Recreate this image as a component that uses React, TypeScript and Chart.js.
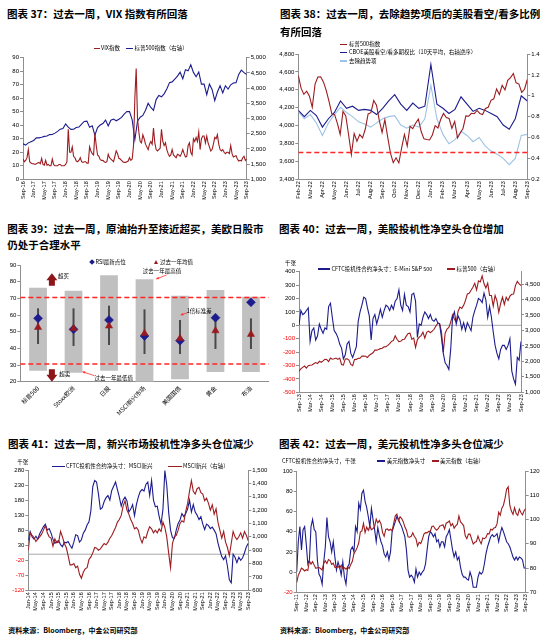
import React, { useEffect, useRef } from "react";
import { Chart, registerables } from "chart.js";

Chart.register(...registerables);

const FONT = "'Liberation Sans', Arial, sans-serif";
const CJK = "'Noto Sans CJK SC', 'Liberation Sans', sans-serif";
const RED = "#9c1c20";
const NAVY = "#1c1c8e";
const LBLUE = "#9cc3e5";
const DASH = "#ff2626";
const AXIS = "#8f8f8f";
const ZERO = "#a8a8a8";
const NEG = "#ff0000";
const GRAYBAR = "#c0c0c0";

// ---------------- Panel 37 ----------------
const p37Ticks = ["Sep-16","Jan-17","May-17","Sep-17","Jan-18","May-18","Sep-18","Jan-19","May-19","Sep-19","Jan-20","May-20","Sep-20","Jan-21","May-21","Sep-21","Jan-22","May-22","Sep-22","Jan-23","May-23","Sep-23"];
// VIX, twice a month, Sep-16 .. Sep-23
const p37Vix = [
  15,13, 14,16, 22,13, 12,11.5, 11.5,11, 11.5,12, 12.5,11.5, 15.5,11, 10.5,14, 10.5,11,
  10,10, 15,11, 10,10, 10,11, 11,10, 10,10, 11,13, 37,20, 20,24, 17,16,
  13.5,13, 14,16, 13,12.5, 13,13, 12,12, 24,21, 19,18, 34,25, 18,17, 14.5,14,
  14,13, 12.5,13, 18.5,16, 15,14, 13,17, 21,19, 15.5,15, 14,13, 12.5,12.5, 13,13.5,
  16,14, 15,25, 60,82, 45,35, 28,27, 33,30, 26,24, 22,26, 28,26, 38,27,
  22,21, 22,23, 37,28, 25,27, 22,19, 17,18, 22,18, 17,16, 18.5,18, 17,19,
  22,19, 16.5,17, 25,27, 20,18, 30,28, 31,28, 35,22, 30,32, 32,27, 32,27,
  24,21, 22,26, 31,30, 33,26, 22,21, 22,20, 19,20, 20,19, 25,19, 16.5,17,
  17.5,15, 13.5,14, 13.5,16, 17,14, 15
];
// S&P 500, monthly, Sep-13 .. Sep-23
const spxMonthly = [
  1682,1757,1806,1848,
  1783,1859,1872,1884,1924,1960,1931,2003,1972,2018,2068,2059,
  1995,2105,2068,2086,2107,2063,2104,1900,1880,2079,2080,2044,
  1900,1860,2060,2065,2097,2099,2174,2171,2168,2126,2199,2239,
  2279,2364,2363,2384,2412,2423,2470,2472,2519,2575,2648,2674,
  2824,2714,2641,2648,2705,2718,2816,2902,2914,2712,2760,2450,
  2704,2784,2834,2946,2752,2942,2980,2926,2977,3038,3141,3231,
  3226,2954,2300,2912,3044,3100,3271,3500,3363,3270,3622,3756,
  3714,3811,3973,4181,4204,4298,4395,4523,4308,4605,4567,4766,
  4516,4374,4530,4132,4132,3785,4130,3955,3586,3872,4080,3840,
  4077,3970,4109,4169,4180,4450,4589,4508,4450
];
const p37Spx = spxMonthly.slice(36);

// ---------------- Panel 38 ----------------
const p38Ticks = ["Feb-22","Mar-22","Apr-22","May-22","Jun-22","Jul-22","Aug-22","Sep-22","Oct-22","Nov-22","Dec-22","Jan-23","Feb-23","Mar-23","Apr-23","May-23","Jun-23","Jul-23","Aug-23","Sep-23"];
const p38Spx = [4560,4418,4349,4385,4329,4204,4463,4543,4546,4488,4393,4272,4132,4123,4024,3901,4158,4109,3901,3675,3912,3825,3899,3863,3962,4130,4145,4280,4228,4058,3924,4067,3873,3693,3586,3640,3583,3752,3901,3771,3993,3965,4026,4072,3934,3852,3845,3840,
  3895,3999,3973,4071,4136,4090,4079,3970,4046,3862,3917,3971,4109,4105,4138,4133,4169,4136,4124,4192,4205,4282,4299,4410,4348,4450,4399,4505,4536,4582,4478,4464,4370,4406,4515];
const p38Pcr = [0.86,0.80,0.86,0.81,0.70,0.78,0.84,0.95,0.88,0.90,0.86,0.87,0.86,0.82,0.88,0.95,1.01,0.92,0.86,0.93,0.88,0.90,1.30,0.92,0.88,0.83,0.87,0.99,0.92,0.85,0.88,0.86,0.83,0.80,0.72,0.68,0.78,1.0,0.95];
const p38Detrend = [0.85,0.78,0.82,0.74,0.62,0.74,0.82,0.89,0.84,0.80,0.75,0.73,0.70,0.74,0.78,0.80,0.81,0.72,0.69,0.72,0.70,0.78,1.10,0.78,0.63,0.54,0.58,0.66,0.62,0.56,0.60,0.52,0.47,0.44,0.40,0.34,0.40,0.62,0.63];
const p38Threshold = [3700, 3700];

// ---------------- Panel 39 ----------------
const p39Cats = ["标普500","Stoxx欧洲","日股","MSCI新兴市场","美国国债","黄金","布油"];
const p39Low = [26.6,25.4,26.6,20,21.4,25.8,25.8];
const p39High = [76.4,74.6,83.8,81.4,71.6,75,71];
const p39Rsi = [58,51.4,57,47.4,44.6,58.4,67.6];
const p39Avg = [52.6,52,53.4,49,46,50.6,48.4];
const p39StdLow = [42.6,41.4,42,36.6,36.6,39.6,39.6];
const p39StdHigh = [64,64,65.6,63.4,57,60.5,58];
const p39Bands = [70.5, 30.6];

// ---------------- Panel 40 ----------------
const p40Ticks = ["Sep-13","Mar-14","Sep-14","Mar-15","Sep-15","Mar-16","Sep-16","Mar-17","Sep-17","Mar-18","Sep-18","Mar-19","Sep-19","Mar-20","Sep-20","Mar-21","Sep-21","Mar-22","Sep-22","Mar-23","Sep-23"];
const p40Cftc = [0,110,80,90,110,130,-120,-40,-20,-110,
  -80,10,-30,-60,-20,-30,140,165,60,-40,
  -60,-90,-140,-170,-250,-220,-140,-120,-210,-240,
  -200,-160,30,100,150,210,200,130,70,-110,
  50,80,10,60,120,60,110,150,140,110,
  150,120,180,200,265,150,110,230,150,140,
  100,230,240,180,-90,10,0,60,100,80,
  50,80,40,30,50,20,10,-90,-210,-280,
  -300,-330,-180,60,100,10,70,40,-30,20,
  -40,20,-10,-40,60,110,150,200,190,170,
  240,190,60,140,60,-50,-150,-210,-250,-180,
  -150,-150,-180,-150,-100,-340,-400,-440,-240,-260,
  -120];
const p40Spx = spxMonthly;

// ---------------- Panel 41 ----------------
const p41Ticks = ["Jan-14","May-14","Sep-14","Jan-15","May-15","Sep-15","Jan-16","May-16","Sep-16","Jan-17","May-17","Sep-17","Jan-18","May-18","Sep-18","Jan-19","May-19","Sep-19","Jan-20","May-20","Sep-20","Jan-21","May-21","Sep-21","Jan-22","May-22","Sep-22","Jan-23","May-23","Sep-23"];
const p41Cftc = [47,75,58,50,60,50,68,80,92,100,
  80,85,70,50,36,42,45,32,25,40,
  38,42,30,20,40,65,62,40,48,70,
  80,97,108,145,225,245,240,200,150,155,
  175,188,195,180,212,226,240,215,190,160,
  180,190,178,140,150,165,128,165,190,208,
  215,210,232,240,195,245,180,158,160,125,
  100,150,278,230,140,80,55,52,80,102,
  114,135,125,135,150,180,140,165,140,130,
  115,125,100,82,100,95,85,90,80,68,
  38,14,-8,-18,-5,-40,-85,-95,0,-10,
  -28,-10,-20,-12,5,25,36];
const p41Msci = [900,1030,1010,995,965,985,1000,1020,1050,1085,
  1030,1000,990,930,985,955,960,1040,1000,950,
  920,860,790,790,800,770,780,720,690,735,
  760,770,830,850,880,920,915,900,910,930,
  950,940,960,990,1010,1040,1070,1110,1130,1160,
  1230,1270,1200,1170,1130,1100,1060,1070,1050,990,
  955,1000,990,1040,1075,1060,1030,1050,1030,1060,
  1040,1110,1070,1000,880,770,950,1000,1010,1050,
  1100,1120,1110,1190,1250,1340,1420,1340,1320,1360,
  1370,1330,1320,1270,1290,1250,1200,1240,1170,1210,
  1110,1050,990,1040,960,920,860,950,1040,1000,
  980,1000,1030,990,1040,1010,970];

// ---------------- Panel 42 ----------------
const p42Ticks = ["Sep-11","Mar-12","Sep-12","Mar-13","Sep-13","Mar-14","Sep-14","Mar-15","Sep-15","Mar-16","Sep-16","Mar-17","Sep-17","Mar-18","Sep-18","Mar-19","Sep-19","Mar-20","Sep-20","Mar-21","Sep-21","Mar-22","Sep-22","Mar-23","Sep-23"];
const p42Cftc = [0,30,45,22,42,45,28,8,12,45,
  52,42,40,12,-2,-5,-12,10,25,54,
  35,30,20,30,15,2,10,5,-3,10,
  -5,-12,5,8,22,25,20,45,40,68,
  62,78,81,70,64,55,45,63,52,42,
  30,44,36,30,26,18,15,20,12,20,
  40,45,50,55,52,48,45,40,35,22,
  2,-5,-3,-5,-10,3,-5,0,-3,0,
  2,8,22,35,40,38,35,38,30,32,
  25,30,30,25,35,38,42,32,22,15,
  20,12,15,5,-2,-5,-5,-7,-8,0,
  -5,-15,-15,-15,-5,0,-2,0,8,18,
  25,30,35,37,35,36,38,30,38,44,
  40,35,30,28,25,20,15,12,15,12,
  15,14,12,4,4];
const p42Dxy = [74,77,78.5,80,
  79.5,78.8,79.3,79.0,83.0,81.6,82.6,81.2,79.9,80.1,80.2,79.8,
  79.2,82.0,83.0,81.9,83.5,83.1,81.5,82.0,80.3,80.2,80.7,80.0,
  81.2,79.7,80.1,79.5,80.4,79.8,81.5,82.8,86.0,87.0,88.4,90.3,
  94.8,95.3,98.4,94.6,96.9,95.5,97.3,95.8,96.3,97.0,100.2,98.6,
  99.6,98.2,94.6,93.1,95.9,96.1,95.5,96.0,95.4,98.4,101.5,102.2,
  99.5,101.1,100.4,99.1,97.0,95.6,92.9,92.7,93.1,94.5,93.0,92.1,
  89.1,90.6,90.1,91.8,94.0,94.6,94.5,95.1,95.1,97.1,97.3,96.2,
  95.6,96.2,97.3,97.5,97.8,96.1,98.5,98.9,99.4,97.4,98.3,96.4,
  97.4,98.1,101.5,99.0,98.3,97.4,93.3,92.1,94.0,94.0,91.9,89.9,
  90.6,90.9,93.2,91.3,90.0,92.4,92.1,92.6,94.2,94.1,96.0,95.7,
  96.5,96.7,98.3,103.0,101.8,104.7,105.9,108.7,112.5,113.5,105.9,103.5,
  102.1,104.9,102.5,101.7,104.3,102.9,101.9,103.6,104.5];

// ---------------- helpers ----------------
const fmtK = (v: number) => Math.round(v).toLocaleString("en-US");
const fmt1 = (v: number) => String(Math.round(v * 10) / 10);
const steps = (a: number, b: number, s: number) => {
  const r: number[] = [];
  for (let v = a; v <= b + 1e-9; v += s) r.push(Math.round(v * 1000) / 1000);
  return r;
};
const series = (vals: number[], span: number) =>
  vals.map((v, i) => ({ x: (i * span) / (vals.length - 1), y: v }));

const ln = (vals: number[], span: number, color: string, axis: string, extra: any = {}) => ({
  type: "line",
  data: series(vals, span),
  borderColor: color,
  backgroundColor: color,
  borderWidth: 1.1,
  pointRadius: 0,
  tension: 0,
  yAxisID: axis,
  ...extra,
});

function yAx(position: string, spec: any, width: number) {
  return {
    type: "linear",
    position,
    min: spec.min,
    max: spec.max,
    afterFit: (s: any) => { s.width = width; },
    afterBuildTicks: (s: any) => { s.ticks = spec.ticks.map((v: number) => ({ value: v })); },
    border: { display: true, color: AXIS, width: 1 },
    grid: {
      drawOnChartArea: false,
      color: AXIS,
      tickLength: 3,
      tickColor: AXIS,
      tickWidth: 1,
    },
    ticks: {
      autoSkip: false,
      padding: 1,
      font: { size: 6, family: FONT },
      color: (c: any) => (c.tick && c.tick.value < 0 ? NEG : "#000"),
      callback: (v: any) => spec.fmt(Number(v)),
    },
  };
}

const zeroLinePlugin = {
  id: "zeroLine",
  beforeDatasetsDraw(chart: any, _a: any, opts: any) {
    if (!opts || opts.value === undefined) return;
    const { ctx, chartArea: a, scales } = chart;
    const py = scales.y.getPixelForValue(opts.value);
    ctx.save();
    ctx.strokeStyle = ZERO;
    ctx.lineWidth = 1;
    ctx.beginPath();
    ctx.moveTo(a.left, py);
    ctx.lineTo(a.right, py);
    ctx.stroke();
    ctx.restore();
  },
};

type Geo = { L: number; T: number; W: number; H: number; plot: { l: number; r: number; t: number; b: number } };

const GEO: Record<string, Geo> = {
  p37: { L: 0, T: 50, W: 275, H: 152, plot: { l: 23, r: 246.7, t: 57.7, b: 179.3 } },
  p38: { L: 275, T: 46, W: 275, H: 156, plot: { l: 298.3, r: 527.3, t: 54, b: 179.3 } },
  p39: { L: 0, T: 257, W: 275, H: 162, plot: { l: 20.3, r: 268.7, t: 265, b: 381.7 } },
  p40: { L: 275, T: 264, W: 275, H: 152, plot: { l: 299, r: 521, t: 271.7, b: 392.3 } },
  p41: { L: 0, T: 462, W: 275, H: 154, plot: { l: 28.3, r: 248.3, t: 470, b: 590.3 } },
  p42: { L: 275, T: 463, W: 275, H: 156, plot: { l: 296.7, r: 525.7, t: 471, b: 592.3 } },
};

function lineConfig(g: Geo, x: any, yl: any, yr: any, datasets: any[], zero?: number) {
  const leftW = g.plot.l - g.L;
  const rightW = g.L + g.W - g.plot.r;
  const padTop = g.plot.t - g.T;
  const xH = g.T + g.H - g.plot.b;
  const scales: any = {
    x: {
      type: "linear",
      min: 0,
      max: x.span,
      afterFit: (s: any) => { s.height = xH; },
      afterBuildTicks: (s: any) => { s.ticks = x.labels.map((_: any, i: number) => ({ value: i * x.step })); },
      border: { display: true, color: AXIS, width: 1 },
      grid: { display: false, drawTicks: false, tickLength: 0 },
      ticks: {
        autoSkip: false,
        minRotation: 90,
        maxRotation: 90,
        padding: 2,
        font: { size: 5.5, family: FONT },
        color: "#000",
        callback: (_v: any, i: number) => x.labels[i],
      },
    },
    y: yAx("left", yl, leftW),
  };
  if (yr) scales.y1 = yAx("right", yr, rightW);
  return {
    type: "line",
    data: { datasets },
    options: {
      responsive: false,
      animation: false,
      events: [],
      layout: { padding: { top: padTop, left: 0, right: yr ? 0 : rightW, bottom: 0 } },
      plugins: {
        legend: { display: false },
        tooltip: { enabled: false },
        zeroLine: zero === undefined ? {} : { value: zero },
      },
      scales,
    },
    plugins: [zeroLinePlugin],
  };
}

// ---------- Panel 39 annotation layout ----------
const p39BlockArrows = [
  { x: 0.39, from: 77.6, to: 85 },
  { x: 0.39, from: 27.4, to: 20 },
];
const p39Notes = [
  { text: "超买", x: 0.72, y: 83.6 },
  { text: "超卖", x: 0.75, y: 24.6 },
  { text: "过去一年最高值", x: 3.49, y: 86.4 },
  { text: "1倍标准差", x: 4.545, y: 62.4 },
  { text: "过去一年最低值", x: 2.13, y: 22.4 },
];
const p39Pointers = [
  { x0: 3.62, y0: 84, x1: 3.33, y1: 81.6 },
  { x0: 4.24, y0: 61.6, x1: 4.02, y1: 60 },
  { x0: 1.59, y0: 23.6, x1: 1.25, y1: 26 },
];

const p39Plugin = {
  id: "p39extra",
  afterDatasetDraw(chart: any, args: any) {
    if (args.index !== 2) return;
    const { ctx, chartArea: a, scales } = chart;
    const x = scales.x, y = scales.y;
    ctx.save();
    ctx.strokeStyle = "#4a4a4a";
    ctx.lineWidth = 2;
    p39StdLow.forEach((lo, i) => {
      const px = x.getPixelForValue(i);
      ctx.beginPath();
      ctx.moveTo(px, y.getPixelForValue(lo));
      ctx.lineTo(px, y.getPixelForValue(p39StdHigh[i]));
      ctx.stroke();
    });
    ctx.strokeStyle = DASH;
    ctx.lineWidth = 1.6;
    ctx.setLineDash([5, 3]);
    p39Bands.forEach((v) => {
      const py = y.getPixelForValue(v);
      ctx.beginPath();
      ctx.moveTo(a.left, py);
      ctx.lineTo(a.right, py);
      ctx.stroke();
    });
    ctx.restore();
  },
  afterDatasetsDraw(chart: any) {
    const { ctx, scales } = chart;
    const x = scales.x, y = scales.y;
    ctx.save();
    ctx.fillStyle = "#8e1518";
    p39BlockArrows.forEach((ar) => {
      const px = x.getPixelForValue(ar.x);
      const pb = y.getPixelForValue(ar.from);
      const pt = y.getPixelForValue(ar.to);
      const dir = pt < pb ? -1 : 1;
      const headH = 7, headW = 5.5, shaftW = 3;
      const neck = pt - dir * headH;
      ctx.beginPath();
      ctx.moveTo(px - shaftW, pb);
      ctx.lineTo(px - shaftW, neck);
      ctx.lineTo(px - headW, neck);
      ctx.lineTo(px, pt);
      ctx.lineTo(px + headW, neck);
      ctx.lineTo(px + shaftW, neck);
      ctx.lineTo(px + shaftW, pb);
      ctx.closePath();
      ctx.fill();
    });
    ctx.strokeStyle = "#ff3030";
    ctx.fillStyle = "#ff3030";
    ctx.lineWidth = 0.8;
    p39Pointers.forEach((p) => {
      const x0 = x.getPixelForValue(p.x0), y0 = y.getPixelForValue(p.y0);
      const x1 = x.getPixelForValue(p.x1), y1 = y.getPixelForValue(p.y1);
      ctx.beginPath();
      ctx.moveTo(x0, y0);
      ctx.lineTo(x1, y1);
      ctx.stroke();
      const ang = Math.atan2(y1 - y0, x1 - x0);
      ctx.beginPath();
      ctx.moveTo(x1, y1);
      ctx.lineTo(x1 - 3 * Math.cos(ang - 0.45), y1 - 3 * Math.sin(ang - 0.45));
      ctx.lineTo(x1 - 3 * Math.cos(ang + 0.45), y1 - 3 * Math.sin(ang + 0.45));
      ctx.closePath();
      ctx.fill();
    });
    ctx.fillStyle = "#000";
    ctx.font = `5.5px ${CJK}`;
    ctx.textAlign = "center";
    ctx.textBaseline = "middle";
    p39Notes.forEach((n) => {
      ctx.fillText(n.text, x.getPixelForValue(n.x), y.getPixelForValue(n.y));
    });
    ctx.restore();
  },
};

function p39Config(g: Geo) {
  const leftW = g.plot.l - g.L;
  const rightPad = g.L + g.W - g.plot.r;
  const padTop = g.plot.t - g.T;
  const xH = g.T + g.H - g.plot.b;
  return {
    type: "bar",
    data: {
      labels: p39Cats,
      datasets: [
        { type: "line", data: p39Avg, showLine: false, pointStyle: "triangle", pointRadius: 4.2, pointBackgroundColor: "#991a1e", pointBorderColor: "#991a1e", pointBorderWidth: 0.5, order: 0 },
        { type: "line", data: p39Rsi, showLine: false, pointStyle: "rectRot", pointRadius: 4.5, pointBackgroundColor: NAVY, pointBorderColor: NAVY, pointBorderWidth: 0.5, order: 1 },
        { type: "bar", data: p39Low.map((v, i) => [v, p39High[i]]), backgroundColor: GRAYBAR, borderWidth: 0, barPercentage: 0.5, categoryPercentage: 1, order: 2 },
      ],
    },
    options: {
      responsive: false,
      animation: false,
      events: [],
      layout: { padding: { top: padTop, left: 0, right: rightPad, bottom: 0 } },
      plugins: { legend: { display: false }, tooltip: { enabled: false } },
      scales: {
        x: {
          type: "category",
          afterFit: (s: any) => { s.height = xH; },
          border: { display: true, color: AXIS, width: 1 },
          grid: { display: false, drawTicks: false, tickLength: 0 },
          ticks: { autoSkip: false, minRotation: 45, maxRotation: 45, padding: 3, font: { size: 6, family: CJK }, color: "#000" },
        },
        y: yAx("left", { min: 20, max: 90, ticks: steps(20, 90, 10), fmt: fmtK }, leftW),
      },
    },
    plugins: [p39Plugin],
  };
}

function buildConfigs() {
  return [
    lineConfig(
      GEO.p37,
      { span: 84, step: 4, labels: p37Ticks },
      { min: 0, max: 90, ticks: steps(0, 90, 10), fmt: fmtK },
      { min: 1000, max: 5000, ticks: steps(1000, 5000, 500), fmt: fmtK },
      [ln(p37Vix, 84, RED, "y"), ln(p37Spx, 84, NAVY, "y1")]
    ),
    lineConfig(
      GEO.p38,
      { span: 19, step: 1, labels: p38Ticks },
      { min: 3400, max: 4800, ticks: steps(3400, 4800, 200), fmt: fmtK },
      { min: 0.2, max: 1.4, ticks: steps(0.2, 1.4, 0.2), fmt: fmt1 },
      [
        ln(p38Threshold, 19, DASH, "y", { borderDash: [5, 3], borderWidth: 1.5 }),
        ln(p38Spx, 19, RED, "y"),
        ln(p38Pcr, 19, NAVY, "y1"),
        ln(p38Detrend, 19, LBLUE, "y1"),
      ]
    ),
    p39Config(GEO.p39),
    lineConfig(
      GEO.p40,
      { span: 120, step: 6, labels: p40Ticks },
      { min: -500, max: 400, ticks: steps(-500, 400, 100), fmt: fmtK },
      { min: 1000, max: 4900, ticks: steps(1000, 4500, 500), fmt: fmtK },
      [ln(p40Cftc, 120, NAVY, "y"), ln(p40Spx, 120, RED, "y1")],
      0
    ),
    lineConfig(
      GEO.p41,
      { span: 116, step: 4, labels: p41Ticks },
      { min: -120, max: 280, ticks: steps(-120, 280, 50), fmt: fmtK },
      { min: 600, max: 1500, ticks: steps(600, 1500, 100), fmt: fmtK },
      [ln(p41Msci, 116, RED, "y1"), ln(p41Cftc, 116, NAVY, "y")],
      0
    ),
    lineConfig(
      GEO.p42,
      { span: 144, step: 6, labels: p42Ticks },
      { min: -20, max: 100, ticks: steps(-20, 100, 20), fmt: fmtK },
      { min: 70, max: 120, ticks: steps(70, 120, 10), fmt: fmtK },
      [ln(p42Dxy, 144, RED, "y1"), ln(p42Cftc, 144, NAVY, "y")]
    ),
  ];
}

const GEO_LIST = [GEO.p37, GEO.p38, GEO.p39, GEO.p40, GEO.p41, GEO.p42];

const Txt = ({ x, y, s, b, c, children }: any) => (
  <div
    style={{
      position: "absolute",
      left: x,
      top: y - s * 0.62,
      fontSize: s,
      lineHeight: `${s * 1.24}px`,
      fontWeight: b ? 700 : 400,
      color: c || "#000",
      whiteSpace: "nowrap",
      fontFamily: CJK,
    }}
  >
    {children}
  </div>
);

const Seg = ({ x, y, w, c, h = 1.4 }: any) => (
  <div style={{ position: "absolute", left: x, top: y - h / 2, width: w, height: h, background: c }} />
);

export default function App() {
  const canvases = useRef<(HTMLCanvasElement | null)[]>([]);

  useEffect(() => {
    const cfgs = buildConfigs();
    const charts: Chart[] = [];
    cfgs.forEach((cfg: any, i: number) => {
      const el = canvases.current[i];
      if (el) charts.push(new Chart(el, cfg));
    });
    return () => charts.forEach((c) => c.destroy());
  }, []);

  const T = 10.5;
  const L = 5.5;

  return (
    <div style={{ position: "absolute", left: 0, top: 0, width: 550, height: 638, background: "#fff", overflow: "hidden" }}>
      {GEO_LIST.map((g, i) => (
        <canvas
          key={i}
          ref={(el) => { canvases.current[i] = el; }}
          width={g.W}
          height={g.H}
          style={{ position: "absolute", left: g.L, top: g.T, width: g.W, height: g.H }}
        />
      ))}

      {/* Panel 37 */}
      <Txt x={7} y={14} s={T} b>图表 37：过去一周，VIX 指数有所回落</Txt>
      <Seg x={94} y={48.3} w={6} c={RED} />
      <Txt x={101} y={48.3} s={L}>VIX指数</Txt>
      <Seg x={126} y={48.3} w={7} c={NAVY} />
      <Txt x={134.5} y={48.3} s={L}>标普500指数（右轴）</Txt>

      {/* Panel 38 */}
      <Txt x={280} y={14} s={T} b>图表 38：过去一周，去除趋势项后的美股看空/看多比例</Txt>
      <Txt x={280} y={32} s={T} b>有所回落</Txt>
      <Seg x={340} y={44.3} w={7} c={RED} />
      <Txt x={349} y={44.3} s={L}>标普500指数</Txt>
      <Seg x={340} y={52.7} w={7} c={NAVY} />
      <Txt x={349} y={52.7} s={L}>CBOE美股看空/看多期权比（10天平均，右轴逆序）</Txt>
      <Seg x={340} y={61} w={7} c={LBLUE} />
      <Txt x={349} y={61} s={L}>去除趋势项</Txt>

      {/* Panel 39 */}
      <Txt x={7.3} y={228.3} s={T} b>图表 39：过去一周，原油抬升至接近超买，美欧日股市</Txt>
      <Txt x={7.3} y={244.3} s={T} b>仍处于合理水平</Txt>
      <div style={{ position: "absolute", left: 89.7, top: 260.3, width: 4, height: 4, background: NAVY, transform: "rotate(45deg)" }} />
      <Txt x={95.5} y={262.3} s={L}>RSI最新点位</Txt>
      <div style={{ position: "absolute", left: 153.5, top: 259.8, width: 0, height: 0, borderLeft: "2.5px solid transparent", borderRight: "2.5px solid transparent", borderBottom: "4.5px solid #991a1e" }} />
      <Txt x={160} y={262.3} s={L}>过去一年均值</Txt>

      {/* Panel 40 */}
      <Txt x={279} y={228.3} s={T} b>图表 40：过去一周，美股投机性净空头仓位增加</Txt>
      <Txt x={285} y={263.3} s={L}>千张</Txt>
      <Seg x={318} y={269} w={12} c={NAVY} />
      <Txt x={331.5} y={269} s={L}>CFTC投机性合约净头寸：E-Mini S&amp;P 500</Txt>
      <Seg x={447} y={269} w={8} c={RED} />
      <Txt x={456.5} y={269} s={L}>标普500（右轴）</Txt>

      {/* Panel 41 */}
      <Txt x={8} y={443.3} s={T} b>图表 41：过去一周，新兴市场投机性净多头仓位减少</Txt>
      <Txt x={17.3} y={462.3} s={L}>千张</Txt>
      <Seg x={52} y={466.7} w={13} c={NAVY} />
      <Txt x={66} y={466.7} s={L}>CFTC投机性合约净头寸：MSCI新兴</Txt>
      <Seg x={168} y={466.7} w={14} c={RED} />
      <Txt x={183} y={466.7} s={L}>MSCI新兴（右轴）</Txt>
      <Txt x={8.3} y={630} s={7} b>资料来源：Bloomberg，中金公司研究部</Txt>

      {/* Panel 42 */}
      <Txt x={279} y={443.3} s={T} b>图表 42：过去一周，美元投机性净多头仓位减少</Txt>
      <Txt x={282} y={461} s={L}>CFTC投机性合约净头寸，千张</Txt>
      <Seg x={376.7} y={461} w={8.5} c={NAVY} />
      <Txt x={386.7} y={461} s={L}>美元指数净头寸</Txt>
      <Seg x={431.7} y={461} w={7} c={RED} />
      <Txt x={440} y={461} s={L}>美元指数（右轴）</Txt>
      <Txt x={280} y={630} s={7} b>资料来源：Bloomberg，中金公司研究部</Txt>
    </div>
  );
}
